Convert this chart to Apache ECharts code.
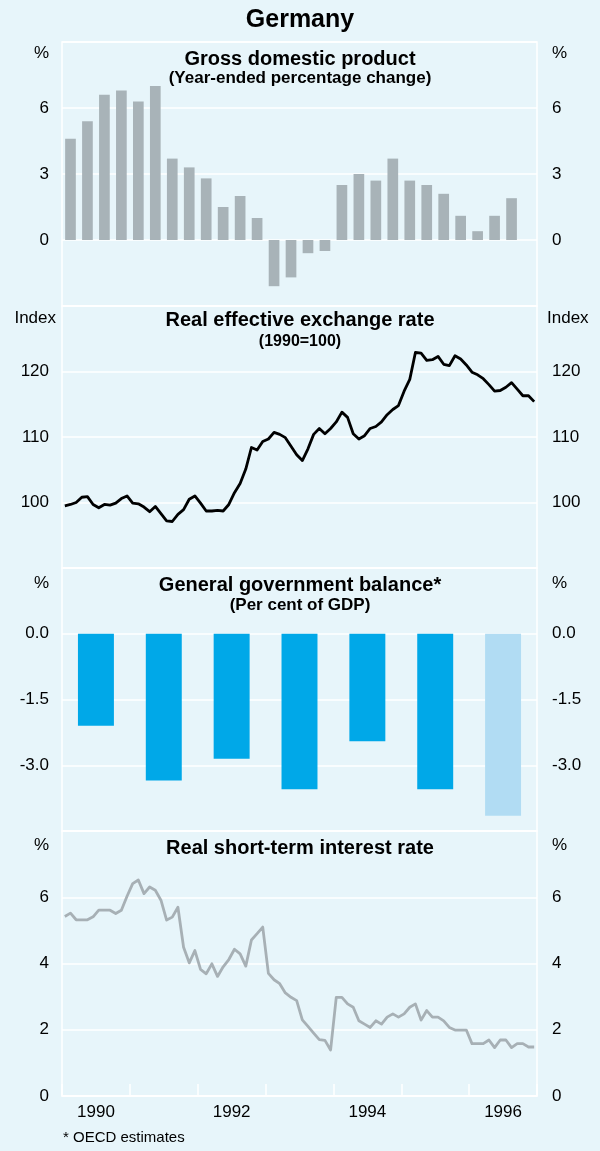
<!DOCTYPE html>
<html>
<head>
<meta charset="utf-8">
<script src="https://cdn.jsdelivr.net/npm/echarts@6/dist/echarts.min.js"></script>
<style>
  html, body { margin: 0; padding: 0; background: #e7f5fa; }
  #chart { width: 600px; height: 1151px; }
</style>
</head>
<body>
<div id="chart"></div>
<script>
// ---------- DATA ----------
const years = ['1990', '1991', '1992', '1993', '1994', '1995', '1996'];

// GDP, year-ended % change, quarterly 1990 Q1 .. 1996 Q3
const gdpValues = [4.6, 5.4, 6.6, 6.8, 6.3, 7.0, 3.7, 3.3, 2.8, 1.5, 2.0, 1.0,
  -2.1, -1.7, -0.6, -0.5, 2.5, 3.0, 2.7, 3.7, 2.7, 2.5, 2.1, 1.1, 0.4, 1.1, 1.9];

// Real effective exchange rate (1990=100), monthly from Jan 1990
const reerValues = [
  99.5, 99.7, 100.0, 100.8, 100.9, 99.7, 99.2, 99.7, 99.6, 99.9, 100.6, 101.0,
  99.9, 99.8, 99.3, 98.6, 99.4, 98.3, 97.2, 97.1, 98.2, 98.9, 100.5, 101.0,
  99.9, 98.7, 98.7, 98.8, 98.7, 99.7, 101.5, 102.9, 105.1, 108.4, 108.0, 109.3,
  109.7, 110.7, 110.4, 109.9, 108.6, 107.3, 106.4, 108.2, 110.4, 111.3, 110.5, 111.3,
  112.3, 113.8, 113.0, 110.5, 109.7, 110.2, 111.3, 111.6, 112.3, 113.4, 114.2, 114.8,
  117.0, 118.8, 122.9, 122.8, 121.7, 121.8, 122.3, 121.1, 120.9, 122.4, 121.9, 121.0,
  119.9, 119.5, 118.9, 118.0, 117.0, 117.1, 117.6, 118.3, 117.3, 116.3, 116.3, 115.4];

// General government balance, per cent of GDP (1996 = OECD estimate)
const balanceValues = [-2.1, -3.35, -2.85, -3.55, -2.45, -3.55, -4.15];
const balanceEstimate = [false, false, false, false, false, false, true];

// Real short-term interest rate, monthly from Jan 1990
const rateValues = [
  5.42, 5.52, 5.32, 5.32, 5.32, 5.41, 5.61, 5.61, 5.61, 5.51, 5.61, 6.03,
  6.41, 6.52, 6.11, 6.31, 6.21, 5.91, 5.31, 5.40, 5.70, 4.49, 4.02, 4.39,
  3.82, 3.69, 3.99, 3.61, 3.90, 4.12, 4.43, 4.29, 3.92, 4.71, 4.90, 5.10,
  3.70, 3.51, 3.39, 3.11, 2.98, 2.88, 2.30, 2.10, 1.90, 1.70, 1.68, 1.39,
  2.98, 2.98, 2.78, 2.68, 2.27, 2.17, 2.07, 2.27, 2.17, 2.38, 2.48, 2.38,
  2.48, 2.68, 2.78, 2.29, 2.58, 2.38, 2.38, 2.27, 2.07, 1.99, 1.99, 1.99,
  1.58, 1.58, 1.58, 1.69, 1.46, 1.69, 1.69, 1.46, 1.58, 1.58, 1.48, 1.48];

// ---------- BUILD ----------
const FONT = "'Liberation Sans', Arial, Helvetica, sans-serif";
const quarters = [];
years.forEach(y => { for (let q = 1; q <= 4; q++) quarters.push(y + ' Q' + q); });
const months = years.length * 12;

const grids = [
  { left: 62, right: 63, top: 42, height: 264 },
  { left: 62, right: 63, top: 306, height: 262 },
  { left: 62, right: 63, top: 568, height: 263 },
  { left: 62, right: 63, top: 831, height: 265 }
].map(g => Object.assign(g, { show: true, borderColor: '#ffffff', borderWidth: 1.5, backgroundColor: 'transparent' }));

const axisSpecs = [
  { min: -3, max: 9, interval: 3, fmt: v => (v === -3 || v === 9) ? '' : String(v) },
  { min: 90, max: 130, interval: 10, fmt: v => (v === 90 || v === 130) ? '' : String(v) },
  { min: -4.5, max: 1.5, interval: 1.5, fmt: v => (v === -4.5 || v === 1.5) ? '' : v.toFixed(1) },
  { min: 0, max: 8, interval: 2, fmt: v => (v === 8) ? '' : String(v) }
];

const yAxes = [];
axisSpecs.forEach((s, g) => {
  ['left', 'right'].forEach(pos => {
    yAxes.push({
      type: 'value', gridIndex: g, position: pos,
      min: s.min, max: s.max, interval: s.interval,
      axisLine: { show: false }, axisTick: { show: false },
      splitLine: { show: pos === 'left', lineStyle: { color: '#ffffff', width: 1.5 } },
      axisLabel: {
        formatter: s.fmt, color: '#000', fontSize: 17, fontFamily: FONT,
        margin: pos === 'left' ? 13 : 15
      }
    });
  });
});

const xAxes = [
  { type: 'category', gridIndex: 0, data: quarters, boundaryGap: true, show: false },
  { type: 'value', gridIndex: 1, min: 0, max: months, show: false },
  { type: 'category', gridIndex: 2, data: years, boundaryGap: true, show: false },
  { type: 'value', gridIndex: 3, min: 0, max: months, show: false },
  {
    type: 'category', gridIndex: 3, data: years, boundaryGap: true, position: 'bottom',
    axisLine: { show: true, lineStyle: { color: '#ffffff', width: 1.5 } },
    axisTick: { show: true, inside: true, length: 12, interval: 0, lineStyle: { color: '#ffffff', width: 1.5 } },
    axisLabel: { color: '#000', fontSize: 17, fontFamily: FONT, margin: 8, interval: 1 },
    splitLine: { show: false }
  }
];

const series = [
  {
    type: 'bar', xAxisIndex: 0, yAxisIndex: 0, data: gdpValues, barWidth: '63%',
    itemStyle: { color: '#a8b3b8' }
  },
  {
    type: 'line', xAxisIndex: 1, yAxisIndex: 2,
    data: reerValues.map((v, i) => [i + 0.5, v]),
    showSymbol: false, symbol: 'none',
    lineStyle: { color: '#000000', width: 2.8, join: 'round' }
  },
  {
    type: 'bar', xAxisIndex: 2, yAxisIndex: 4, barWidth: '53%',
    data: balanceValues.map((v, i) => ({
      value: v, itemStyle: { color: balanceEstimate[i] ? '#b1dcf3' : '#00a8e8' }
    }))
  },
  {
    type: 'line', xAxisIndex: 3, yAxisIndex: 6,
    data: rateValues.map((v, i) => [i + 0.5, v]),
    showSymbol: false, symbol: 'none',
    lineStyle: { color: '#a7b0b5', width: 2.8, join: 'round' }
  }
];

function txt(text, x, y, size, weight, align) {
  return {
    type: 'text', z: 100, silent: true,
    style: {
      text: text, x: x, y: y, fill: '#000',
      font: (weight || 'normal') + ' ' + size + 'px ' + FONT,
      textAlign: align || 'center', textVerticalAlign: 'middle'
    }
  };
}

const graphics = [
  txt('Germany', 300, 20, 25, 'bold'),
  txt('Gross domestic product', 300, 59, 20, 'bold'),
  txt('(Year-ended percentage change)', 300, 78, 17, 'bold'),
  txt('Real effective exchange rate', 300, 320, 20, 'bold'),
  txt('(1990=100)', 300, 342, 16, 'bold'),
  txt('General government balance*', 300, 585, 20, 'bold'),
  txt('(Per cent of GDP)', 300, 605, 17, 'bold'),
  txt('Real short-term interest rate', 300, 848, 20, 'bold'),
  txt('%', 49, 53, 17, 'normal', 'right'),
  txt('%', 552, 53, 17, 'normal', 'left'),
  txt('Index', 56, 318, 17, 'normal', 'right'),
  txt('Index', 547, 318, 17, 'normal', 'left'),
  txt('%', 49, 583, 17, 'normal', 'right'),
  txt('%', 552, 583, 17, 'normal', 'left'),
  txt('%', 49, 845, 17, 'normal', 'right'),
  txt('%', 552, 845, 17, 'normal', 'left'),
  txt('* OECD estimates', 63, 1138, 15, 'normal', 'left')
];

const chart = echarts.init(document.getElementById('chart'), null, { renderer: 'canvas' });
chart.setOption({
  animation: false,
  backgroundColor: '#e7f5fa',
  textStyle: { fontFamily: FONT },
  grid: grids,
  xAxis: xAxes,
  yAxis: yAxes,
  series: series,
  graphic: graphics
});
</script>
</body>
</html>
